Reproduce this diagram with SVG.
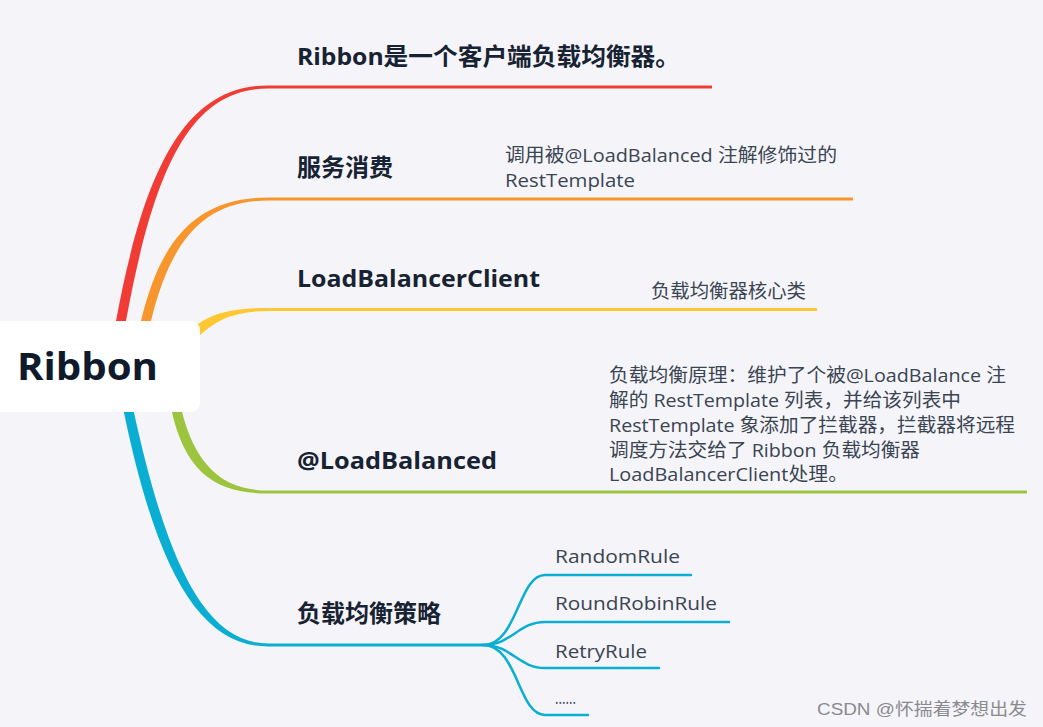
<svg xmlns="http://www.w3.org/2000/svg" width="1043" height="727" viewBox="0 0 1043 727">
  <style>
    .title { font-family: "Open Sans", "Noto Sans CJK SC", sans-serif; font-weight: 700; font-size: 24px; fill: #172232; }
    .note { font-family: "Open Sans", "Noto Sans CJK SC", sans-serif; font-size: 19px; fill: #3a4452; }
    .leaf { font-family: "Open Sans", sans-serif; font-size: 18px; fill: #3a4452; }
    .sub { fill: none; stroke: #0aaed2; stroke-width: 2.5; stroke-linecap: round; }
  </style>
  <rect x="0" y="0" width="1043" height="727" fill="#f5f5f9"/>

  <!-- connectors: tapered branches from the root -->
  <g id="connectors">
    <path fill="#f03c35" d="M116,321 C146,158 190,85.5 268,85.5 L712,85.5 L712,88.5 L268,88.5 C193,88.5 155,162 126,321 Z"/>
    <path fill="#f8962e" d="M141,321 C161,237 198,197.5 268,197.5 L853,197.5 L853,200.5 L268,200.5 C202,200.5 170,243 151,321 Z"/>
    <path fill="#fdc832" d="M193,328 C212,312 234,308 268,308 L817,308 L817,311 L268,311 C237,311 218,318 199,336 Z"/>
    <path fill="#9dc43f" d="M171,408 C185,474 217,493.5 268,493.5 L1027,493.5 L1027,490.5 L268,490.5 C223,490.5 195,466 181,408 Z"/>
    <path fill="#0aaed2" d="M123,408 C155,564 197,646.5 268,646.5 L483,646.5 L483,643.5 L268,643.5 C203,643.5 165,556 133,408 Z"/>
    <path class="sub" d="M483,645 C518,645 518,575 545,575 L691,575"/>
    <path class="sub" d="M483,645 C512,645 518,622 545,622 L729,622"/>
    <path class="sub" d="M483,645 C512,645 518,668 545,668 L659,668"/>
    <path class="sub" d="M483,645 C518,645 518,715 545,715 L588,715"/>
  </g>

  <!-- root -->
  <g id="root">
    <rect x="-10" y="321" width="210" height="91" rx="9" fill="#ffffff"/>
    <text x="17" y="380" font-family="Open Sans, sans-serif" font-weight="700" font-size="38" fill="#0f1a2c" textLength="141" lengthAdjust="spacingAndGlyphs">Ribbon</text>
  </g>

  <g id="node-intro">
    <text class="title" x="297" y="65" textLength="383" lengthAdjust="spacingAndGlyphs">Ribbon是一个客户端负载均衡器。</text>
  </g>

  <g id="node-consumer">
    <text class="title" x="297" y="176">服务消费</text>
    <text class="note" x="505" y="162" textLength="332" lengthAdjust="spacingAndGlyphs">调用被@LoadBalanced 注解修饰过的</text>
    <text class="note" x="505" y="187" textLength="130" lengthAdjust="spacingAndGlyphs">RestTemplate</text>
  </g>

  <g id="node-client">
    <text class="title" x="297" y="287" textLength="243" lengthAdjust="spacingAndGlyphs">LoadBalancerClient</text>
    <text class="note" x="651" y="298" textLength="155" lengthAdjust="spacingAndGlyphs">负载均衡器核心类</text>
  </g>

  <g id="node-annotation">
    <text class="title" x="297" y="469" textLength="200" lengthAdjust="spacingAndGlyphs">@LoadBalanced</text>
    <text class="note" x="609" y="382" textLength="397" lengthAdjust="spacingAndGlyphs">负载均衡原理：维护了个被@LoadBalance 注</text>
    <text class="note" x="609" y="407" textLength="352" lengthAdjust="spacingAndGlyphs">解的 RestTemplate 列表，并给该列表中</text>
    <text class="note" x="609" y="432" textLength="406" lengthAdjust="spacingAndGlyphs">RestTemplate 象添加了拦截器，拦截器将远程</text>
    <text class="note" x="609" y="457" textLength="311" lengthAdjust="spacingAndGlyphs">调度方法交给了 Ribbon 负载均衡器</text>
    <text class="note" x="609" y="481" textLength="239" lengthAdjust="spacingAndGlyphs">LoadBalancerClient处理。</text>
  </g>

  <g id="node-strategy">
    <text class="title" x="297" y="622">负载均衡策略</text>
  </g>

  <g id="leaf-random"><text class="leaf" x="555" y="563" textLength="125" lengthAdjust="spacingAndGlyphs">RandomRule</text></g>
  <g id="leaf-roundrobin"><text class="leaf" x="555" y="610" textLength="162" lengthAdjust="spacingAndGlyphs">RoundRobinRule</text></g>
  <g id="leaf-retry"><text class="leaf" x="555" y="658" textLength="92" lengthAdjust="spacingAndGlyphs">RetryRule</text></g>
  <g id="leaf-more"><text class="leaf" x="555" y="704" font-size="12" fill="#6a727e" textLength="21" lengthAdjust="spacingAndGlyphs">......</text></g>

  <text x="817" y="715" font-family="Liberation Sans, Noto Sans CJK SC, sans-serif" font-size="17" fill="#8a8a8e" textLength="210" lengthAdjust="spacingAndGlyphs">CSDN @怀揣着梦想出发</text>
</svg>
